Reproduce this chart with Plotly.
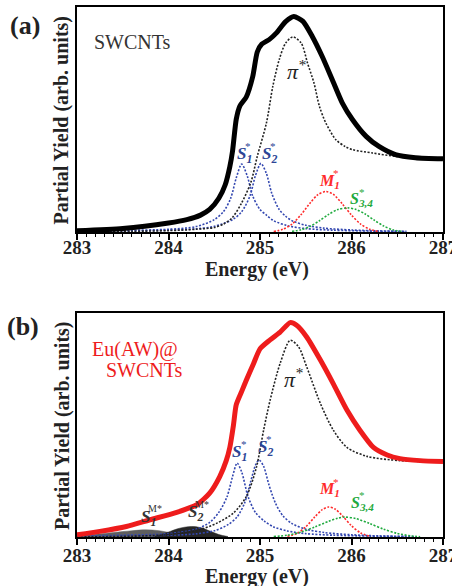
import plotly.graph_objects as go

# ---------------- panel (a): SWCNTs ----------------
E_tot_a = [283.0, 283.5, 284.0, 284.2, 284.35, 284.45, 284.55, 284.62, 284.67, 284.7, 284.74, 284.78,
           284.85, 284.92, 284.97, 285.02, 285.1, 285.18, 285.28, 285.37, 285.47, 285.57, 285.68,
           285.79, 285.9, 286.01, 286.16, 286.3, 286.48, 286.7, 287.0]
Y_tot_a = [0.005, 0.015, 0.04, 0.055, 0.075, 0.10, 0.15, 0.21, 0.29, 0.36, 0.50, 0.56,
           0.60, 0.69, 0.80, 0.835, 0.855, 0.885, 0.935, 0.958, 0.936, 0.87, 0.78,
           0.677, 0.573, 0.50, 0.425, 0.38, 0.344, 0.33, 0.325]

E_pi_a = [283.0, 283.6, 284.0, 284.3, 284.5, 284.6, 284.7, 284.8, 284.9, 284.97, 285.07, 285.14,
          285.21, 285.28, 285.36, 285.45, 285.52, 285.59, 285.65, 285.72, 285.83, 285.93, 286.01,
          286.23, 286.48, 286.6]
Y_pi_a = [0.0, 0.003, 0.006, 0.012, 0.02, 0.035, 0.065, 0.13, 0.22, 0.336, 0.484, 0.647,
          0.766, 0.84, 0.867, 0.84, 0.75, 0.662, 0.558, 0.484, 0.41, 0.38, 0.366,
          0.351, 0.336, 0.333]

E_s1_a = [283.0, 283.5, 284.0, 284.3, 284.5, 284.6, 284.68, 284.74, 284.8, 284.86, 284.92, 285.0,
          285.07, 285.15, 285.3, 285.5, 285.8, 286.2, 286.6]
Y_s1_a = [0.004, 0.007, 0.012, 0.024, 0.055, 0.09, 0.15, 0.24, 0.302, 0.25, 0.16, 0.10,
          0.075, 0.05, 0.028, 0.015, 0.008, 0.004, 0.002]

E_s2_a = [283.0, 283.5, 284.0, 284.3, 284.5, 284.7, 284.8, 284.89, 284.95, 285.01, 285.07, 285.13,
          285.21, 285.28, 285.36, 285.5, 285.7, 286.0, 286.3, 286.6]
Y_s2_a = [0.002, 0.004, 0.008, 0.014, 0.025, 0.055, 0.09, 0.16, 0.25, 0.305, 0.26, 0.17,
          0.10, 0.07, 0.048, 0.03, 0.017, 0.009, 0.005, 0.003]

E_m1_a = [285.15, 285.25, 285.35, 285.45, 285.55, 285.63, 285.72, 285.8, 285.9, 286.0, 286.1, 286.2, 286.3]
Y_m1_a = [0.002, 0.012, 0.035, 0.078, 0.13, 0.165, 0.18, 0.168, 0.125, 0.075, 0.035, 0.012, 0.002]

E_s34_a = [285.35, 285.45, 285.55, 285.65, 285.75, 285.85, 285.96, 286.05, 286.15, 286.25, 286.35, 286.45, 286.55]
Y_s34_a = [0.003, 0.01, 0.025, 0.05, 0.078, 0.1, 0.107, 0.1, 0.08, 0.052, 0.027, 0.01, 0.003]

# ---------------- panel (b): Eu(AW)@SWCNTs ----------------
E_tot_b = [283.0, 283.25, 283.54, 283.8, 284.09, 284.31, 284.45, 284.56, 284.63, 284.67, 284.71, 284.74,
           284.8, 284.85, 284.93, 285.0, 285.11, 285.22, 285.33, 285.4, 285.51, 285.66, 285.8,
           285.95, 286.09, 286.24, 286.39, 286.53, 286.75, 287.0]
Y_tot_b = [0.01, 0.025, 0.047, 0.077, 0.11, 0.144, 0.196, 0.27, 0.34, 0.40, 0.50, 0.59,
           0.65, 0.70, 0.775, 0.84, 0.88, 0.915, 0.957, 0.945, 0.893, 0.79, 0.685,
           0.567, 0.478, 0.40, 0.366, 0.35, 0.341, 0.337]

E_pi_b = [283.0, 283.98, 284.34, 284.53, 284.71, 284.85, 284.96, 285.04, 285.11, 285.22, 285.33, 285.42,
          285.51, 285.66, 285.8, 285.95, 286.17, 286.53, 286.82]
Y_pi_b = [0.0, 0.01, 0.033, 0.062, 0.107, 0.18, 0.31, 0.478, 0.61, 0.775, 0.878, 0.85,
          0.76, 0.596, 0.478, 0.40, 0.36, 0.341, 0.337]

E_s1_b = [283.0, 283.5, 284.0, 284.3, 284.45, 284.55, 284.64, 284.7, 284.75, 284.8, 284.87, 284.95,
          285.05, 285.15, 285.3, 285.5, 285.8, 286.2, 286.6]
Y_s1_b = [0.004, 0.008, 0.015, 0.035, 0.065, 0.11, 0.18, 0.27, 0.33, 0.29, 0.18, 0.11,
          0.07, 0.045, 0.027, 0.015, 0.008, 0.004, 0.002]

E_s2_b = [283.0, 283.5, 284.0, 284.3, 284.5, 284.65, 284.75, 284.83, 284.9, 284.95, 284.99, 285.04,
          285.1, 285.17, 285.25, 285.35, 285.5, 285.7, 286.0, 286.3, 286.7]
Y_s2_b = [0.002, 0.004, 0.008, 0.014, 0.028, 0.055, 0.09, 0.15, 0.25, 0.32, 0.344, 0.315,
          0.23, 0.15, 0.095, 0.06, 0.035, 0.02, 0.01, 0.005, 0.002]

E_m1_b = [285.3, 285.4, 285.5, 285.6, 285.68, 285.75, 285.82, 285.9, 286.0, 286.1, 286.2]
Y_m1_b = [0.003, 0.015, 0.045, 0.09, 0.122, 0.134, 0.125, 0.095, 0.05, 0.018, 0.003]

E_s34_b = [285.15, 285.3, 285.45, 285.6, 285.75, 285.85, 285.93, 286.05, 286.2, 286.35, 286.5, 286.65, 286.75]
Y_s34_b = [0.002, 0.008, 0.022, 0.045, 0.07, 0.084, 0.089, 0.082, 0.06, 0.035, 0.016, 0.005, 0.001]

E_s1m_b = [283.0, 283.2, 283.4, 283.6, 283.75, 283.9, 284.05, 284.2]
Y_s1m_b = [0.005, 0.012, 0.02, 0.028, 0.032, 0.028, 0.016, 0.004]

E_s2m_b = [283.85, 284.0, 284.1, 284.25, 284.35, 284.45, 284.55, 284.65]
Y_s2m_b = [0.003, 0.022, 0.037, 0.047, 0.042, 0.027, 0.011, 0.002]

x_ticks = [283, 284, 285, 286, 287]

BLUE = "#3347b0"
BLUE_T = "#2c4596"
RED = "#ff2b2b"
GREEN = "#1faa3e"
SERIF = "Liberation Serif"
DOT = "2px,1.6px"

fig = go.Figure()


def dotted(x, y, color, xa, ya):
    fig.add_trace(go.Scatter(x=x, y=y, mode="lines", xaxis=xa, yaxis=ya,
                             line=dict(color=color, width=1.6, dash=DOT, shape="spline", smoothing=0.8),
                             hoverinfo="skip", showlegend=False))


# panel a
dotted(E_s1_a, Y_s1_a, BLUE, "x", "y")
dotted(E_s2_a, Y_s2_a, BLUE, "x", "y")
dotted(E_m1_a, Y_m1_a, RED, "x", "y")
dotted(E_s34_a, Y_s34_a, GREEN, "x", "y")
dotted(E_pi_a, Y_pi_a, "#222222", "x", "y")
fig.add_trace(go.Scatter(x=E_tot_a, y=Y_tot_a, mode="lines", xaxis="x", yaxis="y",
                         line=dict(color="black", width=5, shape="spline", smoothing=0.6),
                         hoverinfo="skip", showlegend=False))

# panel b
fig.add_trace(go.Scatter(x=E_s1m_b, y=Y_s1m_b, mode="lines", xaxis="x2", yaxis="y2", fill="tozeroy",
                         fillcolor="#5e5e5e", line=dict(color="#5e5e5e", width=0.5, shape="spline"),
                         hoverinfo="skip", showlegend=False))
fig.add_trace(go.Scatter(x=E_s2m_b, y=Y_s2m_b, mode="lines", xaxis="x2", yaxis="y2", fill="tozeroy",
                         fillcolor="#262626", line=dict(color="#262626", width=0.5, shape="spline"),
                         hoverinfo="skip", showlegend=False))
dotted(E_s1_b, Y_s1_b, BLUE, "x2", "y2")
dotted(E_s2_b, Y_s2_b, BLUE, "x2", "y2")
dotted(E_m1_b, Y_m1_b, RED, "x2", "y2")
dotted(E_s34_b, Y_s34_b, GREEN, "x2", "y2")
dotted(E_pi_b, Y_pi_b, "#222222", "x2", "y2")
fig.add_trace(go.Scatter(x=E_tot_b, y=Y_tot_b, mode="lines", xaxis="x2", yaxis="y2",
                         line=dict(color="#ee1c1c", width=5, shape="spline", smoothing=0.6),
                         hoverinfo="skip", showlegend=False))


def xaxis_opts(standoff):
    return dict(range=[283, 287], tickvals=x_ticks, ticktext=[str(t) for t in x_ticks],
                ticks="outside", ticklen=6, tickwidth=1.6, tickcolor="black",
                ticklabelstandoff=standoff, ticklabeloverflow="allow", automargin=False,
                minor=dict(dtick=0.1, ticks="outside", ticklen=3, tickwidth=1.2, tickcolor="black"),
                showline=True, linecolor="black", linewidth=1.8, mirror=True,
                showgrid=False, zeroline=False,
                tickfont=dict(family=SERIF, size=19, color="#222222", weight="bold"))


ycommon = dict(range=[0, 1], showticklabels=False, ticks="", showline=True, linecolor="black",
               linewidth=1.6, mirror=True, showgrid=False, zeroline=False, automargin=False)

fig.update_layout(
    width=452, height=586, autosize=False,
    margin=dict(l=77, r=9, t=7, b=49, autoexpand=False),
    paper_bgcolor="white", plot_bgcolor="white",
    xaxis=dict(domain=[0, 1], anchor="y", **xaxis_opts(-9)),
    yaxis=dict(domain=[0.5755, 1], anchor="x", **ycommon),
    xaxis2=dict(domain=[0, 1], anchor="y2", **xaxis_opts(-6)),
    yaxis2=dict(domain=[0, 0.4226], anchor="x2", **ycommon),
)


def lab(text, x, y, ax, ay, size, color, bold=True, italic=False, xshift=0, yshift=0):
    fig.add_annotation(text=text, x=x, y=y, xref=ax, yref=ay, showarrow=False,
                       xshift=xshift, yshift=yshift,
                       font=dict(family=SERIF, size=size, color=color,
                                 weight="bold" if bold else "normal",
                                 style="italic" if italic else "normal"))


def peak_label(base, sub, sup, x, y, ax, ay, size, color, sx, sy, supsize=11):
    lab(base + "<sub>" + sub + "</sub>", x, y, ax, ay, size, color, italic=True)
    lab(sup, x, y, ax, ay, supsize, color, italic=False, bold=False, xshift=sx, yshift=sy)


# panel a labels
lab("SWCNTs", 283.61, 0.846, "x", "y", 20, "#333333", bold=False)
lab("π<sup>*</sup>", 285.40, 0.72, "x", "y", 22, "#222222", bold=False, italic=True)
peak_label("S", "1", "*", 284.83, 0.343, "x", "y", 17, BLUE_T, 4, 9)
peak_label("S", "2", "*", 285.10, 0.343, "x", "y", 17, BLUE_T, 4, 9)
peak_label("M", "1", "*", 285.76, 0.225, "x", "y", 16, RED, 6, 8)
peak_label("S", "3,4", "*", 286.11, 0.143, "x", "y", 16, GREEN, 0, 8)

# panel b labels
lab("Eu(AW)@", 283.63, 0.835, "x2", "y2", 20, "#ee1c1c", bold=False)
lab("SWCNTs", 283.74, 0.746, "x2", "y2", 20, "#ee1c1c", bold=False)
lab("π<sup>*</sup>", 285.37, 0.71, "x2", "y2", 22, "#222222", bold=False, italic=True)
peak_label("S", "1", "*", 284.78, 0.374, "x2", "y2", 17, BLUE_T, 4, 9)
peak_label("S", "2", "*", 285.06, 0.396, "x2", "y2", 17, BLUE_T, 4, 9)
peak_label("M", "1", "*", 285.76, 0.21, "x2", "y2", 16, RED, 6, 8)
peak_label("S", "3,4", "*", 286.12, 0.15, "x2", "y2", 16, GREEN, 0, 8)
peak_label("S", "1", "M*", 283.78, 0.085, "x2", "y2", 17, "#333333", 7, 9, supsize=10)
peak_label("S", "2", "M*", 284.29, 0.107, "x2", "y2", 17, "#333333", 7, 9, supsize=10)

# panel letters, axis titles
for txt, px, py in [("(a)", -0.142, 0.965), ("(b)", -0.148, 0.397)]:
    fig.add_annotation(text=txt, x=px, y=py, xref="paper", yref="paper", showarrow=False,
                       xanchor="center", yanchor="middle",
                       font=dict(family=SERIF, size=26, color="#222222", weight="bold"))

for py in [0.7877, 0.2113]:
    fig.add_annotation(text="Partial Yield (arb. units)", x=-0.041, y=py, xref="paper", yref="paper",
                       showarrow=False, textangle=-90, xanchor="center", yanchor="middle",
                       font=dict(family=SERIF, size=20, color="#222222", weight="bold"))

for py in [0.504, -0.0736]:
    fig.add_annotation(text="Energy (eV)", x=0.492, y=py, xref="paper", yref="paper",
                       showarrow=False, xanchor="center", yanchor="middle",
                       font=dict(family=SERIF, size=20, color="#222222", weight="bold"))

fig.write_html("out.html", config={"displayModeBar": False},
               post_script="document.body.style.margin='0';")
